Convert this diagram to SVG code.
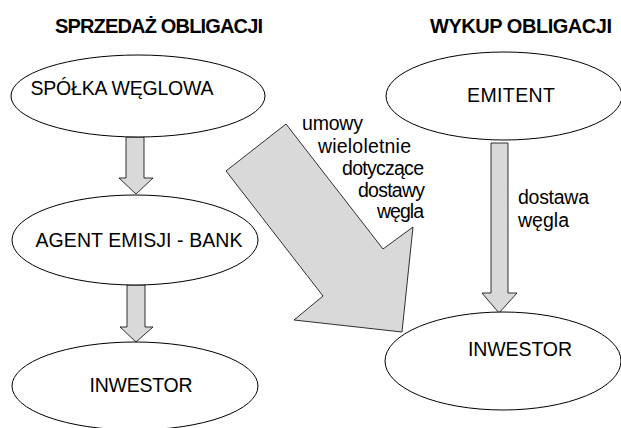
<svg xmlns="http://www.w3.org/2000/svg" width="621" height="428" viewBox="0 0 621 428">
<style>
.node{fill:#fff;stroke:#000;stroke-width:1}
.arr{fill:#d9d9d9;stroke:#000;stroke-width:0.8;stroke-linejoin:miter}
text{font-family:"Liberation Sans",Arial,sans-serif;font-size:19.5px;fill:#000}
.t{text-anchor:middle}
.h{font-weight:bold;font-size:20px;text-anchor:middle}
</style>
<rect width="621" height="428" fill="#fff"/>
<text class="h" x="159" y="33" textLength="208">SPRZEDAŻ OBLIGACJI</text>
<text class="h" x="521" y="33" textLength="182">WYKUP OBLIGACJI</text>
<g id="connectors">
<polygon class="arr" points="126,137 144,137 144,178 153,178 136,194 119,178 126,178"/>
<polygon class="arr" points="127,285 145,285 145,327 153,327 136,342 120,327 127,327"/>
<polygon class="arr" points="491,143 508,143 508,293 517,293 499,313 482,293 491,293"/>
<polygon class="arr" points="226,171 286,124 383,249 413,227 402,332 294,320 323,296"/>
<g id="label-umowy">
<text x="302" y="130" textLength="61">umowy</text>
<text x="318" y="153" textLength="93">wieloletnie</text>
<text x="342" y="175" textLength="82">dotyczące</text>
<text x="358" y="197" textLength="67">dostawy</text>
<text x="377" y="218" textLength="47">węgla</text>
</g>
<g id="label-dostawa">
<text x="518" y="204" textLength="71">dostawa</text>
<text x="518" y="227" textLength="51">węgla</text>
</g>
</g>
<g id="spolka">
<ellipse class="node" cx="138" cy="96" rx="127" ry="41"/>
<text class="t" x="122" y="95" textLength="183">SPÓŁKA WĘGLOWA</text>
</g>
<g id="agent">
<ellipse class="node" cx="135" cy="240" rx="123" ry="45"/>
<text class="t" x="139" y="247" textLength="207">AGENT EMISJI - BANK</text>
</g>
<g id="inwestor-left">
<ellipse class="node" cx="135" cy="386" rx="123" ry="44"/>
<text class="t" x="141" y="392" textLength="103">INWESTOR</text>
</g>
<g id="emitent">
<ellipse class="node" cx="504" cy="96" rx="118" ry="44"/>
<text class="t" x="511" y="102" textLength="88">EMITENT</text>
</g>
<g id="inwestor-right">
<ellipse class="node" cx="503" cy="361" rx="118" ry="49"/>
<text class="t" x="520" y="356" textLength="104">INWESTOR</text>
</g>
</svg>
